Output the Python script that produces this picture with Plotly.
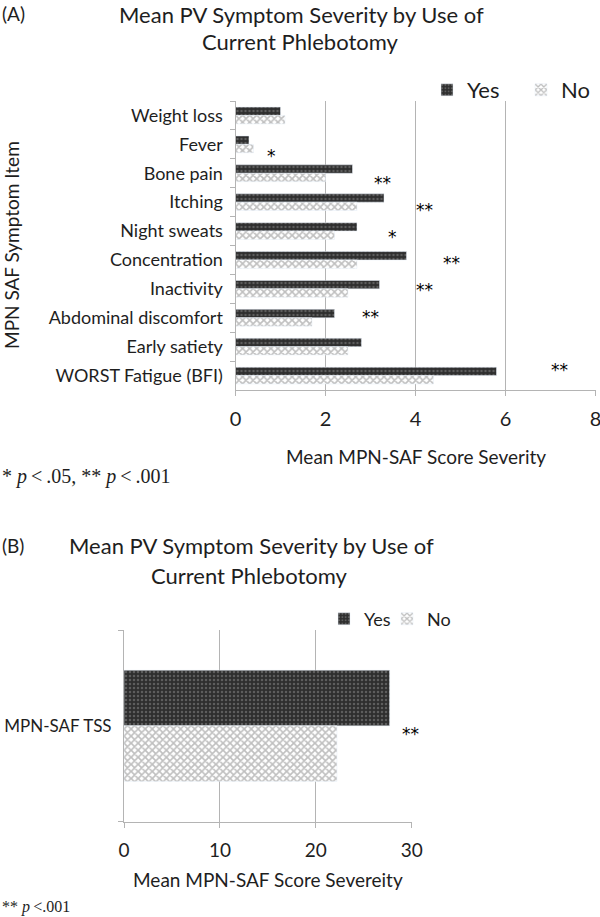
import plotly.graph_objects as go

# ---- Data ----
items = ["Weight loss", "Fever", "Bone pain", "Itching", "Night sweats",
         "Concentration", "Inactivity", "Abdominal discomfort", "Early satiety",
         "WORST Fatigue (BFI)"]
yes_vals = [1.0, 0.3, 2.6, 3.3, 2.7, 3.8, 3.2, 2.2, 2.8, 5.8]
no_vals = [1.1, 0.4, 2.0, 2.7, 2.2, 2.7, 2.5, 1.7, 2.5, 4.4]

sig_labels = ["*", "**", "**", "*", "**", "**", "**", "**"]
sig_x = [0.81, 3.26, 4.21, 3.49, 4.8, 4.21, 3.0, 7.19]
sig_y = [1.40, 2.34, 3.27, 4.20, 5.10, 6.04, 6.97, 8.80]

tss_cat = ["MPN-SAF TSS"]
tss_yes = [27.7]
tss_no = [22.2]

W, H = 600, 917
def px(x):
    return x / W
def py(y):
    return 1 - y / H

FONT = "Lato"
SERIF = "Liberation Serif"
TXT = "#1e1e1e"

yes_marker = dict(color="#2e2e2e",
                  pattern=dict(shape=".", fgcolor="#8c8c8c", bgcolor="#2e2e2e",
                               size=4, solidity=0.3))
no_marker = dict(color="#ffffff",
                 pattern=dict(shape="x", fgcolor="#808080", bgcolor="#ffffff",
                              size=5, solidity=0.55))

fig = go.Figure()
fig.add_trace(go.Bar(y=items, x=yes_vals, orientation="h", name="Yes",
                     marker=yes_marker, xaxis="x", yaxis="y", legend="legend",
                     showlegend=True))
fig.add_trace(go.Bar(y=items, x=no_vals, orientation="h", name="No",
                     marker=no_marker, xaxis="x", yaxis="y", legend="legend2",
                     showlegend=True))
fig.add_trace(go.Bar(y=tss_cat, x=tss_yes, orientation="h", name="Yes",
                     marker=yes_marker, xaxis="x2", yaxis="y2", legend="legend3",
                     showlegend=True))
fig.add_trace(go.Bar(y=tss_cat, x=tss_no, orientation="h", name="No",
                     marker=no_marker, xaxis="x2", yaxis="y2", legend="legend4",
                     showlegend=True))

grid = "#b4b4b4"
axis_common = dict(showline=True, linecolor=grid, linewidth=1, ticks="outside",
                   ticklen=5, tickcolor=grid, zeroline=False, automargin=False)

def note(x, y, text, size, family=FONT, xanchor="left", angle=0):
    return dict(x=x, y=y, xref="paper", yref="paper", xanchor=xanchor,
                yanchor="middle", text=text, showarrow=False, textangle=angle,
                font=dict(family=family, size=size, color=TXT))

def leg(x, y, size):
    return dict(orientation="h", x=px(x), y=py(y), xanchor="left", yanchor="middle",
                font=dict(size=size), bgcolor="rgba(0,0,0,0)")

ann = []
for lab, x, y in zip(sig_labels, sig_x, sig_y):
    ann.append(dict(x=x, y=y, xref="x", yref="y", text=lab, showarrow=False,
                    font=dict(family="DejaVu Sans", size=17, color="#000000")))
ann.append(dict(x=29.9, y=0.04, xref="x2", yref="y2", text="**", showarrow=False,
                font=dict(family="DejaVu Sans", size=17, color="#000000")))

ann += [
    note(0, py(13), "(A)", 19),
    note(px(301), py(14), "Mean PV Symptom Severity by Use of", 22, xanchor="center"),
    note(px(300), py(42), "Current Phlebotomy", 22, xanchor="center"),
    note(px(11), py(245), "MPN SAF Symptom Item", 19, xanchor="center", angle=-90),
    note(px(415.5), py(456), "Mean MPN-SAF Score Severity", 19, xanchor="center"),
    note(0, py(477), "* <i>p</i>&#8201;&lt;&#8201;.05, ** <i>p</i>&#8201;&lt;&#8201;.001",
         20, family=SERIF),
    note(0, py(545), "(B)", 19),
    note(px(251), py(545), "Mean PV Symptom Severity by Use of", 22, xanchor="center"),
    note(px(249), py(575), "Current Phlebotomy", 22, xanchor="center"),
    note(px(268), py(879), "Mean MPN-SAF Score Severeity", 19, xanchor="center"),
    note(0, py(907), "** <i>p</i>&#8201;&lt;.001", 16, family=SERIF),
]

fig.update_layout(
    width=W, height=H,
    margin=dict(l=0, r=0, t=0, b=0),
    paper_bgcolor="white", plot_bgcolor="white",
    showlegend=True,
    barmode="group", bargap=0.42, bargroupgap=0,
    font=dict(family=FONT, size=16, color=TXT),
    xaxis=dict(domain=[px(235.5), px(595.5)], anchor="y", range=[0, 8], dtick=2,
               showgrid=True, gridcolor=grid, tickfont=dict(size=20),
               ticklabelstandoff=6, ticklabeloverflow="allow", **axis_common),
    yaxis=dict(domain=[py(390), py(101)], anchor="x", type="category",
               categoryorder="array", categoryarray=items,
               range=[len(items) - 0.5, -0.5], tickson="boundaries",
               showgrid=False, tickfont=dict(size=18), ticklabelstandoff=8,
               **axis_common),
    xaxis2=dict(domain=[px(124), px(411.7)], anchor="y2", range=[0, 30], dtick=10,
                showgrid=True, gridcolor=grid, tickfont=dict(size=19),
                ticklabelstandoff=6, ticklabeloverflow="allow", **axis_common),
    yaxis2=dict(domain=[py(821.7), py(630)], anchor="x2", type="category",
                range=[0.5, -0.5], tickson="boundaries", showgrid=False,
                tickfont=dict(size=17), ticklabelstandoff=8, **axis_common),
    legend=leg(427, 90, 22),
    legend2=leg(521, 90, 22),
    legend3=leg(324, 619, 18),
    legend4=leg(387, 619, 18),
    annotations=ann,
)

fig.write_html("out.html", config={"displayModeBar": False},
               post_script="document.body.style.margin='0';document.body.style.padding='0';")
